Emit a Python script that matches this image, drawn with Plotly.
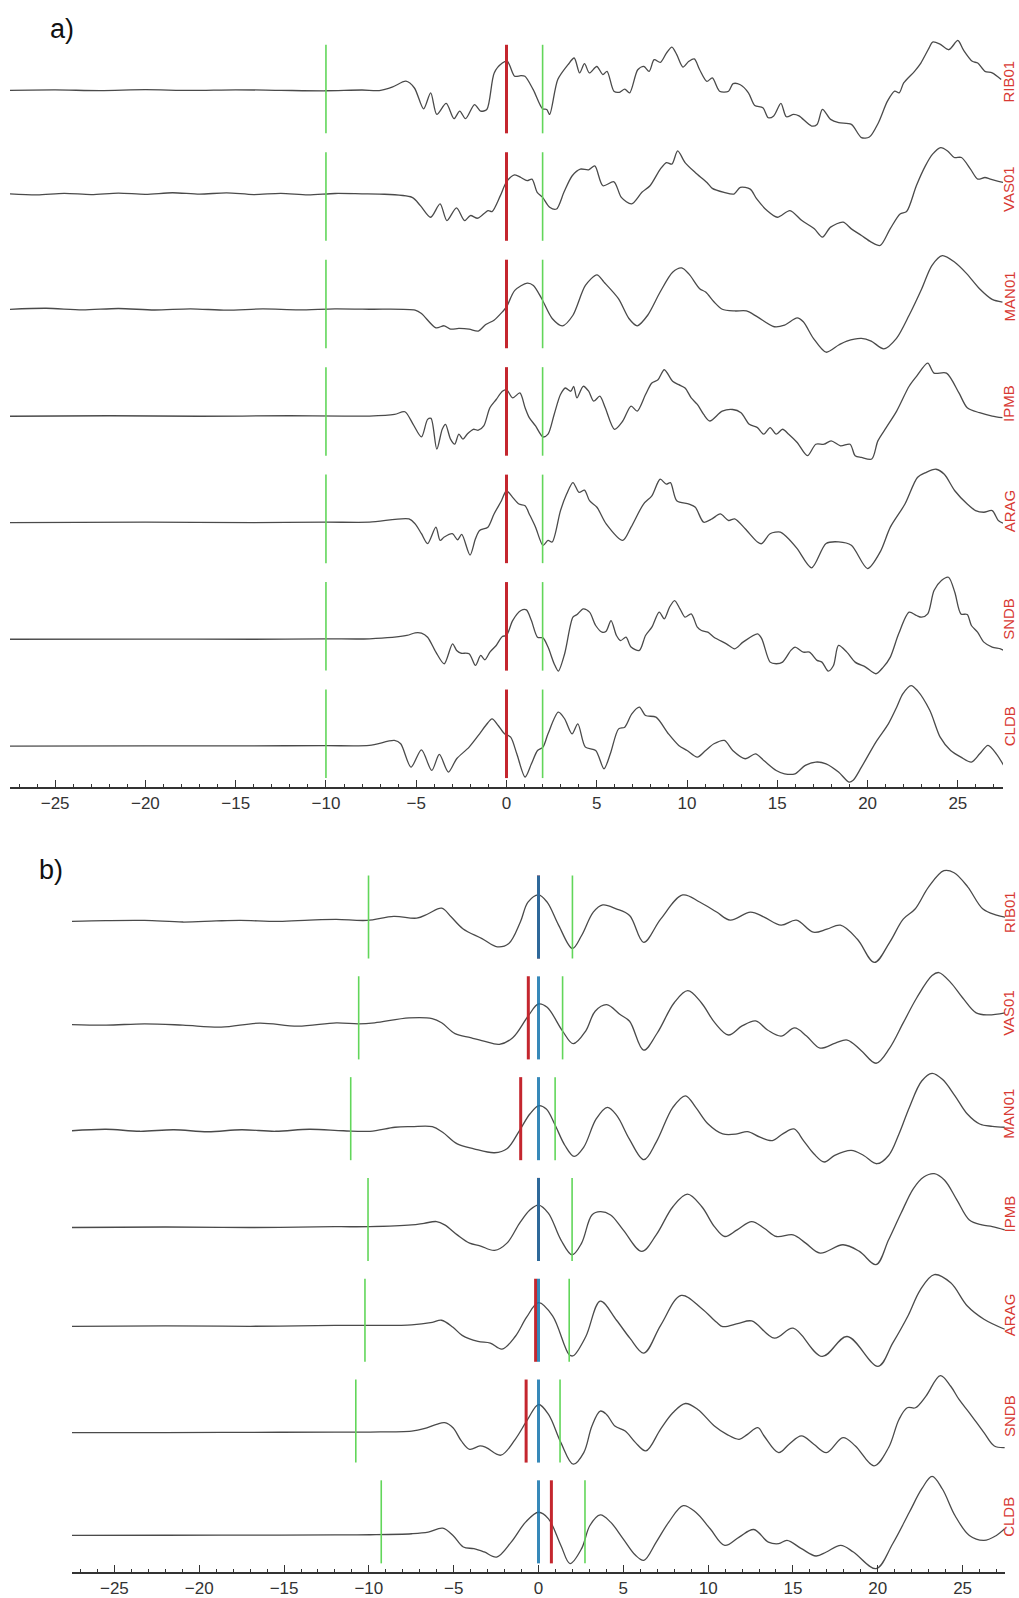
import plotly.graph_objects as go

# ---------------------------------------------------------------
# Station records: (time [s], amplitude [% of trace spacing])
# ---------------------------------------------------------------
STATIONS = ["RIB01", "VAS01", "MAN01", "IPMB", "ARAG", "SNDB", "CLDB"]

# a) raw records
a_rib01 = [(-27.5,-1.2),(-25.0,-0.8),(-22.5,-1.4),(-20.0,-0.6),(-17.5,-1.3),(-15.0,-0.7),(-12.5,-1.2),(-10.0,-1.6),(-8.0,-0.9),(-7.05,-1.4),(-6.3,2.0),(-5.57,7.3),(-5.1,1.0),(-4.59,-18.4),(-4.2,-3.5),(-3.86,-23.6),(-3.34,-13.4),(-2.91,-27.6),(-2.59,-20.5),(-2.27,-27.6),(-1.77,-14.4),(-1.43,-20.5),(-1.09,-19.0),(-0.68,15.0),(-0.23,24.2),(0.05,25.8),(0.45,11.9),(0.8,12.5),(1.02,11.9),(1.48,-0.5),(2.0,-18.4),(2.23,-19.0),(2.39,-23.6),(2.84,8.8),(3.41,22.7),(3.75,28.9),(4.05,15.0),(4.32,23.6),(4.59,15.0),(5.0,21.0),(5.34,13.4),(5.57,16.5),(5.95,-2.0),(6.25,-3.0),(6.55,0.0),(6.82,-3.5),(7.27,18.0),(7.61,21.0),(7.9,16.5),(8.18,27.3),(8.52,24.8),(8.86,33.5),(9.16,39.0),(9.43,32.0),(9.77,20.5),(10.1,25.8),(10.4,28.0),(10.7,18.0),(11.1,7.2),(11.4,10.3),(11.8,-2.0),(12.3,-2.0),(12.55,5.0),(12.95,4.0),(13.4,-3.5),(13.75,-15.3),(14.2,-17.4),(14.5,-26.7),(14.8,-25.0),(15.2,-13.4),(15.5,-25.8),(15.9,-23.6),(16.2,-25.0),(16.9,-34.4),(17.2,-32.9),(17.5,-19.0),(17.95,-28.2),(18.4,-31.3),(19.1,-32.9),(19.66,-45.2),(20.1,-44.6),(20.6,-31.3),(21.1,-11.3),(21.5,-2.0),(21.75,-3.5),(22.0,5.7),(22.6,16.5),(22.95,24.2),(23.4,38.1),(23.6,43.7),(23.98,42.1),(24.5,36.6),(25.0,45.2),(25.3,36.6),(25.8,25.8),(26.1,24.2),(26.5,16.5),(26.9,15.0),(27.4,8.8)]

a_vas01 = [(-27.5,2.5),(-26.0,1.5),(-24.5,3.0),(-23.0,1.8),(-21.5,3.2),(-20.0,2.0),(-18.5,3.5),(-17.0,2.2),(-15.5,3.4),(-14.0,1.8),(-12.5,3.0),(-11.0,1.5),(-9.5,2.8),(-8.0,2.5),(-7.05,2.3),(-5.23,-0.8),(-4.77,-8.5),(-4.2,-19.3),(-3.68,-6.9),(-3.3,-22.4),(-2.77,-10.6),(-2.32,-22.4),(-2.0,-17.7),(-1.59,-20.2),(-1.02,-13.1),(-0.8,-14.0),(-0.34,0.8),(0.0,13.7),(0.45,20.2),(0.8,17.7),(1.14,14.7),(1.41,16.2),(1.7,3.9),(2.0,-0.8),(2.39,-10.0),(2.77,-11.6),(3.18,3.9),(3.64,19.3),(4.09,25.5),(4.55,24.8),(4.89,28.5),(5.34,10.0),(5.95,13.7),(6.36,-0.8),(6.93,-6.9),(7.5,3.9),(7.95,10.0),(8.52,25.5),(8.86,31.6),(9.16,30.1),(9.48,42.4),(9.89,31.6),(10.45,22.4),(11.1,13.1),(11.4,7.6),(12.05,3.9),(12.6,2.3),(12.95,8.5),(13.5,6.9),(13.86,-2.3),(14.43,-13.1),(15.0,-19.3),(15.7,-13.1),(16.36,-22.4),(17.05,-30.1),(17.5,-37.8),(17.95,-28.5),(18.64,-23.9),(19.1,-30.1),(19.66,-36.3),(20.2,-42.4),(20.7,-45.5),(21.25,-30.1),(21.8,-16.2),(22.16,-14.0),(22.7,10.0),(23.2,28.5),(23.6,39.4),(24.05,45.5),(24.43,42.4),(24.8,36.3),(25.2,36.3),(25.7,25.5),(26.1,16.2),(26.5,17.7),(26.8,16.2),(27.5,13.1)]

a_man01 = [(-27.5,-5.0),(-25.5,-4.0),(-23.5,-5.5),(-21.5,-4.2),(-19.5,-5.6),(-17.5,-4.5),(-15.5,-5.8),(-13.5,-4.6),(-11.5,-5.5),(-9.5,-4.5),(-7.59,-4.9),(-5.06,-5.8),(-4.71,-8.9),(-3.91,-22.2),(-3.45,-20.3),(-3.1,-23.4),(-2.64,-22.8),(-2.07,-23.4),(-1.56,-25.2),(-1.15,-19.1),(-0.69,-15.1),(-0.23,-7.4),(0.0,-2.8),(0.46,12.6),(1.15,19.4),(1.49,17.2),(1.95,4.9),(2.53,-13.5),(3.1,-20.3),(3.68,-10.5),(4.37,17.2),(5.01,27.1),(5.4,20.3),(6.2,4.9),(6.78,-13.5),(7.24,-20.3),(7.82,-10.5),(8.51,11.1),(9.2,29.5),(9.7,33.5),(10.1,28.0),(10.7,14.2),(11.03,11.1),(11.5,1.8),(11.95,-4.9),(12.64,-6.5),(13.29,-6.5),(13.9,-12.0),(14.83,-21.2),(15.4,-19.7),(16.1,-12.9),(16.44,-16.6),(17.0,-32.0),(17.7,-44.9),(18.4,-38.2),(18.85,-34.5),(19.66,-32.0),(20.2,-34.5),(20.9,-41.8),(21.6,-32.0),(22.3,-10.5),(23.0,14.2),(23.56,35.7),(24.14,44.9),(24.83,38.8),(25.5,28.0),(26.2,14.2),(26.9,4.3),(27.47,1.8)]

a_ipmb = [(-27.5,-4.5),(-22.0,-4.0),(-17.0,-4.5),(-12.0,-4.0),(-9.0,-4.3),(-7.59,-4.3),(-6.2,-2.8),(-5.63,-0.3),(-5.17,-12.0),(-4.71,-23.7),(-4.37,-7.4),(-4.18,-6.5),(-3.86,-35.1),(-3.56,-16.6),(-3.38,-12.0),(-3.1,-25.8),(-2.87,-30.5),(-2.64,-21.2),(-2.41,-25.8),(-2.18,-21.2),(-1.84,-16.6),(-1.56,-17.5),(-1.26,-13.5),(-0.92,3.4),(-0.57,11.1),(-0.23,18.8),(0.0,20.3),(0.34,12.6),(0.74,17.2),(1.03,3.4),(1.26,-5.8),(1.61,-13.5),(2.02,-23.7),(2.3,-21.2),(2.64,-2.8),(2.99,15.7),(3.26,21.8),(3.56,18.8),(3.72,23.4),(3.9,12.6),(4.25,23.4),(4.55,18.8),(4.83,9.5),(5.17,14.2),(5.47,3.4),(5.98,-16.6),(6.44,-8.9),(6.9,4.9),(7.24,0.3),(7.7,15.7),(8.05,26.5),(8.39,29.5),(8.74,38.8),(9.2,28.0),(9.54,24.9),(9.89,21.8),(10.23,12.6),(10.57,6.5),(10.92,-2.8),(11.26,-8.9),(11.95,0.3),(12.53,1.8),(12.99,-1.2),(13.45,-12.0),(13.9,-15.1),(14.25,-21.2),(14.6,-15.1),(14.94,-21.2),(15.29,-16.6),(15.63,-21.2),(16.1,-28.9),(16.67,-41.2),(17.13,-30.5),(17.59,-30.5),(17.98,-27.4),(18.5,-32.0),(19.03,-30.5),(19.31,-41.2),(19.66,-42.8),(20.23,-44.3),(20.57,-27.4),(21.03,-15.1),(21.61,0.3),(22.3,23.4),(22.71,32.6),(23.33,44.9),(23.68,35.7),(24.37,35.7),(25.06,17.2),(25.52,3.4),(26.2,-1.2),(26.9,-4.3),(27.47,-5.8)]

a_arag = [(-27.5,-3.5),(-20.0,-3.0),(-14.0,-3.5),(-10.0,-3.0),(-7.59,-3.1),(-5.4,0.0),(-5.06,-4.6),(-4.71,-13.8),(-4.37,-23.0),(-3.91,-7.7),(-3.68,-20.0),(-3.45,-16.9),(-3.0,-13.8),(-2.71,-19.4),(-2.48,-14.5),(-2.02,-33.7),(-1.72,-18.5),(-1.49,-10.8),(-1.03,-7.7),(-0.69,4.6),(-0.28,16.9),(0.0,26.2),(0.34,20.0),(0.69,13.8),(1.03,12.3),(1.26,4.6),(1.61,-7.7),(2.02,-24.6),(2.3,-20.0),(2.53,-21.5),(2.99,7.7),(3.33,23.1),(3.68,33.8),(4.02,24.6),(4.32,26.8),(4.6,16.9),(5.01,10.8),(5.52,-4.6),(6.44,-20.0),(6.9,-7.7),(7.59,13.8),(8.05,21.5),(8.51,36.9),(8.85,32.3),(9.08,33.8),(9.43,16.9),(10.11,13.8),(10.46,10.8),(10.92,-3.1),(11.38,0.0),(11.84,4.6),(12.3,-1.5),(12.64,0.0),(13.22,-9.2),(13.9,-21.5),(14.13,-23.1),(14.6,-13.8),(15.17,-12.3),(15.52,-16.9),(16.1,-27.7),(16.9,-45.5),(17.7,-22.9),(18.4,-21.4),(19.1,-24.5),(20.0,-46.2),(20.7,-30.7),(21.26,-7.7),(22.07,13.8),(22.76,38.5),(23.22,43.1),(23.79,46.2),(24.25,41.5),(24.83,26.2),(25.52,13.8),(25.98,7.7),(26.44,6.2),(26.9,7.7),(27.24,-1.5),(27.5,-4.0)]

a_sndb = [(-27.5,-12.0),(-20.0,-11.8),(-14.0,-12.0),(-10.0,-11.6),(-7.59,-11.6),(-5.52,-8.5),(-5.06,-6.0),(-4.71,-6.3),(-4.37,-10.1),(-3.91,-24.0),(-3.45,-34.8),(-2.99,-16.3),(-2.76,-22.4),(-2.53,-24.9),(-2.07,-25.5),(-1.72,-36.4),(-1.43,-27.1),(-1.2,-31.1),(-0.92,-24.0),(-0.57,-17.8),(-0.23,-9.4),(0.0,-8.5),(0.34,5.4),(0.8,14.7),(1.1,15.3),(1.38,5.4),(1.72,-10.1),(2.02,-10.7),(2.3,-19.3),(2.64,-34.8),(2.87,-41.6),(3.22,-25.5),(3.68,8.5),(3.91,11.0),(4.25,16.3),(4.6,13.2),(4.94,0.8),(5.29,-5.4),(5.52,-4.5),(5.79,5.4),(6.09,-8.5),(6.32,-13.2),(6.62,-10.1),(6.9,-19.3),(7.36,-22.4),(7.7,-8.5),(8.05,-0.8),(8.46,13.2),(8.74,7.0),(9.03,17.8),(9.31,24.0),(9.61,16.3),(9.89,8.5),(10.23,11.6),(10.57,-0.8),(10.8,-3.9),(11.15,-5.4),(11.49,-10.1),(12.18,-16.3),(12.64,-20.9),(13.1,-14.7),(13.91,-7.0),(14.14,-11.6),(14.6,-33.3),(14.94,-34.8),(15.29,-33.3),(15.75,-22.4),(15.98,-19.3),(16.44,-24.0),(16.78,-24.0),(17.2,-31.7),(17.47,-33.3),(17.82,-41.6),(18.11,-36.4),(18.39,-17.8),(18.85,-24.0),(19.31,-33.3),(19.89,-37.9),(20.46,-44.1),(20.87,-37.9),(21.26,-28.6),(21.72,-7.0),(22.3,13.2),(22.71,10.1),(22.99,8.5),(23.33,11.6),(23.68,33.3),(24.09,42.6),(24.48,45.7),(24.83,31.7),(25.17,11.6),(25.52,11.0),(25.75,0.8),(26.09,-5.4),(26.44,-14.7),(26.9,-19.3),(27.36,-20.9),(27.54,-22.4)]

a_cldb = [(-27.5,-11.5),(-20.0,-11.3),(-14.0,-11.2),(-10.0,-11.0),(-7.59,-10.8),(-6.21,-6.2),(-5.86,-9.3),(-5.29,-31.0),(-4.71,-14.9),(-4.14,-34.1),(-3.72,-19.2),(-3.22,-35.6),(-2.76,-23.2),(-2.07,-12.4),(-1.49,0.0),(-1.15,7.7),(-0.8,13.9),(-0.46,7.7),(-0.11,0.0),(0.23,-3.1),(0.57,-18.6),(1.03,-40.2),(1.38,-27.9),(1.72,-15.5),(2.02,-12.4),(2.3,0.0),(2.87,20.1),(3.22,13.9),(3.63,0.0),(3.95,9.3),(4.37,-12.4),(4.94,-15.5),(5.4,-32.5),(5.75,-18.6),(6.21,4.6),(6.55,6.2),(6.94,18.6),(7.36,24.8),(7.7,17.0),(8.28,15.5),(8.97,0.0),(9.54,-10.8),(10.0,-15.5),(10.57,-21.7),(11.03,-15.5),(11.49,-9.3),(12.07,-6.2),(12.53,-15.5),(13.22,-23.2),(13.79,-18.6),(14.25,-24.8),(14.94,-34.1),(15.4,-37.2),(15.98,-37.2),(16.55,-29.4),(17.13,-26.3),(17.7,-27.9),(18.39,-35.6),(18.97,-44.9),(19.2,-43.3),(19.66,-31.0),(20.46,-7.7),(21.15,9.3),(21.61,24.8),(21.95,37.2),(22.41,44.9),(22.76,40.2),(23.45,21.7),(24.02,-3.1),(24.6,-15.5),(25.17,-21.7),(25.75,-26.3),(26.21,-18.6),(26.67,-10.8),(27.13,-18.6),(27.54,-29.4)]

# b) filtered records
b_rib01 = [(-27.5,-4.3),(-25.5,-3.5),(-23.22,-3.3),(-20.96,-4.9),(-19.0,-3.8),(-17.57,-3.3),(-15.31,-4.3),(-13.5,-3.0),(-11.92,-2.3),(-10.11,-3.3),(-8.53,0.7),(-7.18,-1.0),(-6.5,3.3),(-5.71,8.9),(-5.14,0.0),(-4.46,-11.5),(-3.33,-21.3),(-2.43,-29.5),(-1.75,-26.2),(-1.07,-4.9),(-0.62,14.8),(0.0,22.0),(0.51,14.8),(1.19,-8.2),(2.0,-31.1),(2.55,-18.0),(3.23,4.9),(3.79,12.1),(4.58,8.2),(5.37,1.6),(6.2,-25.0),(7.2,-2.0),(8.5,22.0),(9.5,15.0),(10.5,5.0),(11.3,-3.0),(12.5,5.0),(13.3,0.0),(14.3,-8.0),(15.2,-3.0),(16.2,-15.0),(17.0,-12.0),(17.8,-8.0),(18.8,-22.0),(19.8,-45.0),(20.7,-25.0),(21.5,-2.0),(22.2,8.0),(23.0,30.0),(23.9,46.0),(24.5,44.0),(25.3,30.0),(26.2,8.0),(27.0,2.0),(27.5,0.0)]

b_vas01 = [(-27.5,-6.6),(-25.49,-7.2),(-23.22,-5.9),(-20.96,-7.2),(-18.7,-9.2),(-16.44,-5.2),(-14.18,-8.2),(-11.92,-4.9),(-10.61,-5.9),(-9.66,-4.9),(-7.63,0.0),(-6.27,-0.7),(-5.71,-4.9),(-4.92,-15.7),(-4.01,-19.7),(-3.22,-23.0),(-2.31,-26.2),(-1.52,-19.7),(-0.62,1.6),(0.0,13.8),(0.51,10.5),(1.42,-13.1),(2.05,-25.6),(2.78,-13.1),(3.34,6.6),(4.02,13.1),(4.81,3.3),(5.37,-3.3),(6.2,-32.0),(7.0,-15.0),(8.0,15.0),(8.8,27.0),(9.6,15.0),(10.4,-5.0),(11.2,-17.0),(12.0,-8.0),(12.8,-3.0),(13.5,-12.0),(14.3,-18.0),(15.1,-10.0),(15.8,-18.0),(16.6,-30.0),(17.5,-25.0),(18.2,-22.0),(19.0,-32.0),(19.9,-45.0),(20.7,-30.0),(21.5,-5.0),(22.3,20.0),(23.2,42.0),(23.6,45.0),(24.3,35.0),(25.0,20.0),(25.8,5.0),(26.5,3.0),(27.5,5.0)]

b_man01 = [(-27.5,-12.0),(-25.5,-10.5),(-23.5,-12.5),(-21.5,-11.0),(-19.5,-13.0),(-17.5,-11.0),(-15.5,-12.5),(-13.5,-10.5),(-11.5,-12.0),(-9.93,-12.5),(-8.46,-8.5),(-7.48,-7.9),(-6.26,-7.9),(-5.65,-13.5),(-4.79,-25.0),(-3.81,-29.9),(-2.59,-33.8),(-1.86,-29.9),(-1.12,-11.8),(-0.51,4.6),(0.0,12.8),(0.46,9.5),(0.95,-5.3),(1.56,-26.6),(2.1,-37.4),(2.67,-28.2),(3.4,-0.3),(4.06,11.2),(4.62,3.0),(5.35,-20.0),(6.21,-40.7),(6.94,-23.3),(7.92,11.2),(8.66,22.7),(9.27,11.2),(10.0,-5.3),(10.86,-15.1),(11.71,-15.1),(12.32,-12.8),(13.06,-18.4),(13.79,-21.7),(14.4,-15.1),(15.06,-10.2),(15.62,-21.7),(16.23,-34.8),(16.85,-43.0),(17.46,-36.5),(18.44,-31.5),(19.17,-36.5),(19.95,-44.7),(20.64,-36.5),(21.25,-15.1),(21.86,11.2),(22.59,37.4),(23.2,45.0),(23.81,39.1),(24.55,22.7),(25.28,4.6),(26.01,-5.3),(26.75,-7.6),(27.48,-8.5)]

b_ipmb = [(-27.5,-8.0),(-22.0,-7.5),(-17.0,-8.0),(-12.0,-7.2),(-9.93,-7.1),(-7.48,-5.4),(-6.75,-3.8),(-6.01,-2.1),(-5.53,-5.4),(-4.79,-15.3),(-4.06,-23.5),(-3.45,-26.1),(-2.59,-30.7),(-1.86,-23.5),(-1.12,-3.8),(-0.51,9.4),(0.0,14.3),(0.59,6.1),(1.32,-20.2),(1.98,-35.0),(2.54,-23.5),(3.15,4.4),(3.64,7.7),(4.25,4.4),(4.99,-10.3),(6.09,-31.7),(6.94,-15.3),(7.92,12.6),(8.78,25.1),(9.63,12.6),(10.37,-7.1),(10.98,-16.9),(11.71,-10.3),(12.57,-2.1),(13.3,-8.7),(14.03,-16.9),(15.01,-15.3),(15.75,-23.5),(16.6,-33.3),(17.95,-25.1),(18.92,-31.7),(19.9,-44.8),(20.64,-20.2),(21.37,6.1),(22.1,30.7),(22.71,42.2),(23.33,45.5),(23.94,38.9),(24.67,19.2),(25.4,-0.5),(26.14,-5.4),(26.75,-7.1),(27.48,-10.3)]

b_arag = [(-27.5,-6.0),(-22.0,-5.5),(-17.0,-6.0),(-12.0,-5.0),(-9.93,-5.0),(-7.48,-4.5),(-6.26,-2.0),(-5.72,0.0),(-5.04,-7.0),(-4.5,-15.0),(-3.57,-21.0),(-2.84,-22.7),(-2.15,-28.6),(-1.37,-16.1),(-0.7,3.0),(0.0,17.4),(0.83,4.3),(1.81,-34.2),(2.05,-35.2),(2.79,-16.1),(3.64,19.0),(4.6,0.0),(5.4,-18.0),(6.21,-32.6),(7.2,-5.0),(8.41,24.6),(9.6,12.0),(10.5,-2.0),(10.86,-6.3),(11.8,-3.0),(12.57,-0.7),(13.91,-17.8),(15.01,-7.9),(16.72,-35.9),(18.19,-16.1),(20.02,-45.7),(20.88,-22.7),(21.8,5.0),(22.5,30.0),(23.33,45.3),(24.3,37.1),(25.28,14.1),(26.26,1.0),(27.48,-8.9)]

b_sndb = [(-27.5,-11.5),(-22.0,-11.5),(-17.0,-11.2),(-12.0,-11.0),(-9.93,-10.9),(-7.48,-9.9),(-6.75,-7.6),(-6.01,-3.3),(-5.53,-1.6),(-5.04,-6.6),(-4.55,-19.7),(-4.06,-28.0),(-3.45,-24.7),(-3.08,-26.3),(-2.22,-33.9),(-1.37,-18.1),(-0.64,1.6),(0.0,16.4),(0.59,6.6),(1.32,-21.4),(2.05,-42.8),(2.67,-31.3),(3.15,-4.9),(3.64,9.9),(4.01,6.6),(4.5,-4.9),(5.11,-9.9),(5.72,-21.4),(6.33,-29.6),(7.19,-8.2),(7.92,8.2),(8.66,17.4),(9.39,11.5),(10.37,-4.9),(11.1,-13.2),(11.83,-18.1),(12.32,-13.2),(12.93,-6.6),(13.3,-14.8),(14.16,-31.3),(14.77,-23.0),(15.5,-14.8),(16.23,-23.0),(16.97,-31.3),(17.95,-16.4),(18.68,-24.7),(19.78,-44.4),(20.64,-26.3),(21.25,1.6),(21.74,13.2),(22.22,13.2),(22.84,24.7),(23.69,45.1),(24.3,34.5),(24.79,21.4),(25.4,8.2),(26.26,-11.5),(26.87,-24.7),(27.48,-26.3)]

b_cldb = [(-27.5,-13.5),(-22.0,-13.3),(-17.0,-13.2),(-12.0,-13.0),(-9.93,-12.8),(-7.48,-11.8),(-6.5,-10.2),(-5.65,-6.3),(-5.04,-13.5),(-4.43,-25.0),(-3.81,-26.6),(-3.2,-29.9),(-2.47,-34.9),(-1.61,-20.1),(-0.76,-0.3),(0.0,9.5),(0.59,3.0),(1.32,-23.4),(1.86,-41.4),(2.54,-26.6),(3.03,-3.6),(3.64,6.9),(4.25,-0.3),(4.99,-16.8),(5.72,-33.2),(6.21,-38.2),(6.94,-20.1),(7.68,-0.3),(8.53,16.1),(9.27,9.5),(10.12,-6.9),(10.98,-23.4),(11.83,-15.1),(12.69,-7.6),(13.55,-20.1),(14.16,-21.7),(14.65,-18.4),(15.5,-26.6),(16.36,-33.9),(16.97,-29.9),(17.82,-23.4),(18.56,-29.9),(19.9,-46.4),(20.88,-21.7),(21.86,9.5),(22.59,32.6),(23.2,45.1),(23.81,32.6),(24.55,6.3),(25.4,-13.5),(26.26,-18.4),(26.99,-13.5),(27.48,-6.9)]

# phase picks [s]
a_green = [-10.0, 2.0]
a_red = 0.0
b_green_left = [-10.02, -10.6, -11.07, -10.05, -10.23, -10.77, -9.27]
b_green_right = [2.0, 1.42, 0.98, 1.98, 1.81, 1.27, 2.74]
b_red = [0.0, -0.6, -1.05, 0.0, -0.17, -0.73, 0.76]
b_blue = [0.0, 0.0, 0.0, 0.0, 0.0, 0.0, 0.0]

X_RANGE = [-27.5, 27.5]

# ---------------------------------------------------------------
W, H = 1019, 1598
TRACE_COLOR = "#4a4a4a"
GREEN = "#62d65a"
RED = "#c4262e"
BLUE = "#1575ad"
LABEL_RED = "#d83a34"
HALF = 0.412  # half height of pick bars, in trace spacings
FONT = "Liberation Sans, Arial, sans-serif"

panels = {
    "a": dict(traces=[a_rib01, a_vas01, a_man01, a_ipmb, a_arag, a_sndb, a_cldb],
              left=10, right=1003, top=20, bottom=791, c0=89.5, sp=108.0,
              xa="x", ya="y", smooth=0.8, label_dy=0.07),
    "b": dict(traces=[b_rib01, b_vas01, b_man01, b_ipmb, b_arag, b_sndb, b_cldb],
              left=72, right=1005, top=850, bottom=1580, c0=921.7, sp=101.3,
              xa="x2", ya="y2", smooth=1.0, label_dy=0.05),
}

fig = go.Figure()


def bars(times_per_trace):
    xs, ys = [], []
    for i, t in enumerate(times_per_trace):
        xs += [t, t, None]
        ys += [-i - HALF, -i + HALF, None]
    return xs, ys


for key, p in panels.items():
    for i, rec in enumerate(p["traces"]):
        t = [q[0] for q in rec]
        y = [-i + q[1] / 100.0 for q in rec]
        fig.add_trace(go.Scatter(
            x=t, y=y, mode="lines", xaxis=p["xa"], yaxis=p["ya"],
            line=dict(color=TRACE_COLOR, width=1.3, shape="spline",
                      smoothing=p["smooth"]),
            hoverinfo="skip", showlegend=False))

# pick bars, panel a
for tp in a_green:
    xs, ys = bars([tp] * 7)
    fig.add_trace(go.Scatter(x=xs, y=ys, mode="lines", xaxis="x", yaxis="y",
                             line=dict(color=GREEN, width=1.6),
                             hoverinfo="skip", showlegend=False))
xs, ys = bars([a_red] * 7)
fig.add_trace(go.Scatter(x=xs, y=ys, mode="lines", xaxis="x", yaxis="y",
                         line=dict(color=RED, width=3),
                         hoverinfo="skip", showlegend=False))

# pick bars, panel b
for picks in (b_green_left, b_green_right):
    xs, ys = bars(picks)
    fig.add_trace(go.Scatter(x=xs, y=ys, mode="lines", xaxis="x2", yaxis="y2",
                             line=dict(color=GREEN, width=1.6),
                             hoverinfo="skip", showlegend=False))
xs, ys = bars(b_red)
fig.add_trace(go.Scatter(x=xs, y=ys, mode="lines", xaxis="x2", yaxis="y2",
                         line=dict(color=RED, width=3),
                         hoverinfo="skip", showlegend=False))
xs, ys = bars(b_blue)
fig.add_trace(go.Scatter(x=xs, y=ys, mode="lines", xaxis="x2", yaxis="y2",
                         opacity=0.85, line=dict(color=BLUE, width=3),
                         hoverinfo="skip", showlegend=False))

axis_font = dict(family=FONT, size=17, color="#333333")
layout = dict(
    width=W, height=H, margin=dict(l=0, r=0, t=0, b=0),
    paper_bgcolor="white", plot_bgcolor="white", showlegend=False,
)

annotations = []
for key, p in panels.items():
    xname = "xaxis" if p["xa"] == "x" else "xaxis2"
    yname = "yaxis" if p["ya"] == "y" else "yaxis2"
    layout[xname] = dict(
        domain=[p["left"] / W, p["right"] / W], range=X_RANGE,
        anchor=p["ya"], showgrid=False, zeroline=False,
        showline=True, linecolor="#333333", linewidth=1.5,
        ticks="inside", ticklen=7, tickwidth=1.2, tickcolor="#333333",
        tick0=0, dtick=5, tickfont=axis_font,
        minor=dict(ticks="inside", ticklen=3.5, tickwidth=1.0,
                   tickcolor="#333333", dtick=1, tick0=0, showgrid=False),
    )
    layout[yname] = dict(
        domain=[1 - p["bottom"] / H, 1 - p["top"] / H],
        range=[-(p["bottom"] - p["c0"]) / p["sp"], (p["c0"] - p["top"]) / p["sp"]],
        anchor=p["xa"], visible=False, showgrid=False, zeroline=False,
    )
    for i, name in enumerate(STATIONS):
        annotations.append(dict(
            text=name, x=1009 / W, xref="paper", y=-i + p["label_dy"], yref=p["ya"],
            textangle=-90, showarrow=False, xanchor="center", yanchor="middle",
            font=dict(family=FONT, size=15, color=LABEL_RED)))

annotations.append(dict(text="a)", x=62 / W, y=1 - 29 / H, xref="paper", yref="paper",
                        showarrow=False, xanchor="center", yanchor="middle",
                        font=dict(family=FONT, size=27, color="#111111")))
annotations.append(dict(text="b)", x=51 / W, y=1 - 874 / H, xref="paper", yref="paper",
                        showarrow=False, xanchor="center", yanchor="middle",
                        font=dict(family=FONT, size=27, color="#111111")))
layout["annotations"] = annotations

fig.update_layout(**layout)
fig.write_html("out.html")
